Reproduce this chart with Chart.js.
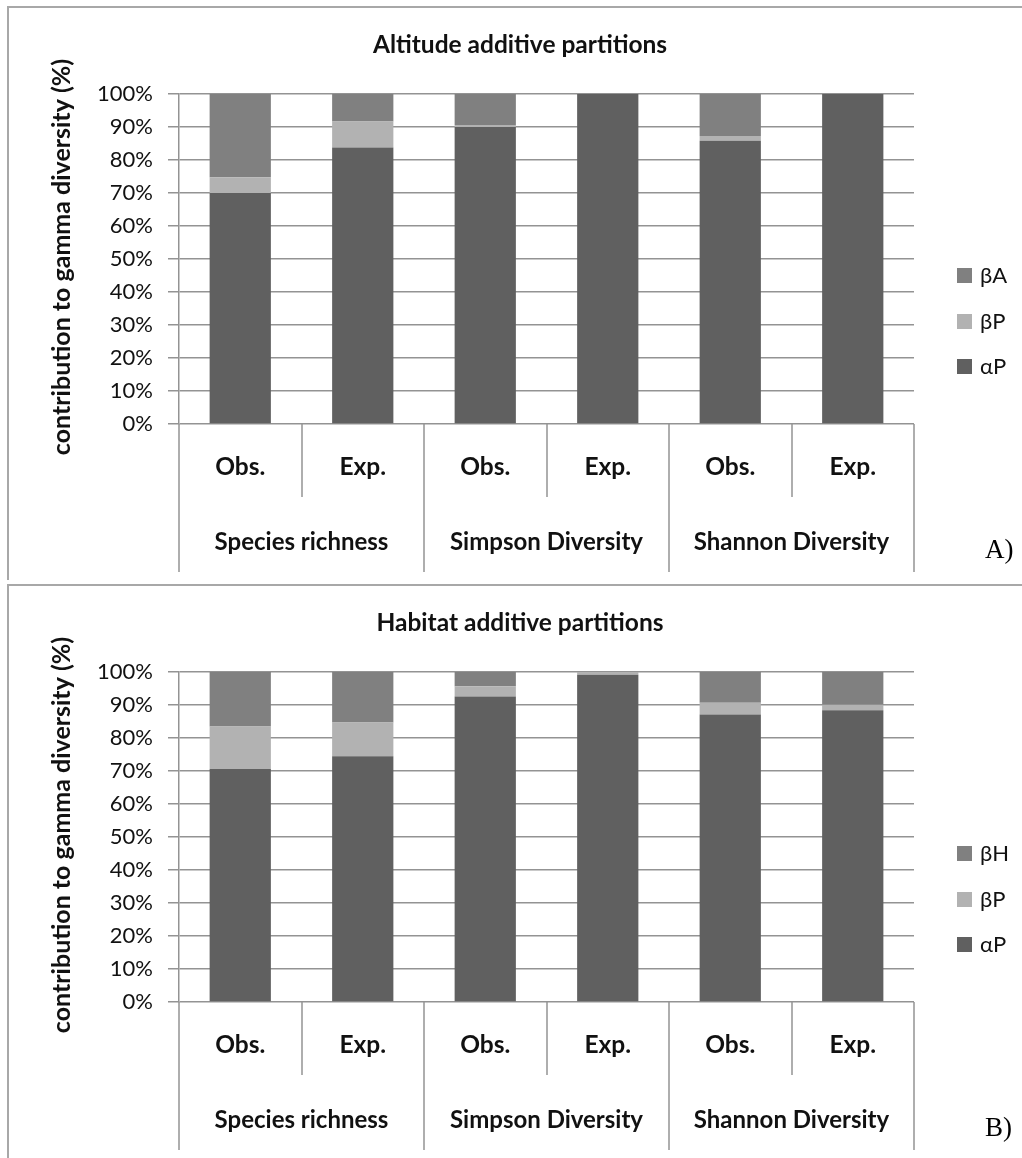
<!DOCTYPE html>
<html><head><meta charset="utf-8">
<script src="https://cdn.jsdelivr.net/npm/chart.js@4.4.1/dist/chart.umd.min.js"></script>
<style>
html,body{margin:0;padding:0;background:#fff;}
body{width:1022px;height:1158px;position:relative;overflow:hidden;}
.panel{position:absolute;left:0;width:1022px;height:580px;}
#pa{top:0;}
#pb{top:578px;}
</style></head><body>
<div class="panel" id="pa"><canvas id="ca" width="1022" height="580"></canvas></div>
<div class="panel" id="pb"><canvas id="cb" width="1022" height="580"></canvas></div>
<script>
// ---- data ----
const subLabels = ['Obs.', 'Exp.', 'Obs.', 'Exp.', 'Obs.', 'Exp.'];
const groupLabels = ['Species richness', 'Simpson Diversity', 'Shannon Diversity'];
const yTickValues = [0, 10, 20, 30, 40, 50, 60, 70, 80, 90, 100];

const altTitle = 'Altitude additive partitions';
const altAlphaP = [70.0, 83.8, 90.0, 100, 85.8, 100];
const altBetaP  = [4.8, 7.9, 0.6, 0, 1.5, 0];
const altBetaA  = [25.2, 8.3, 9.4, 0, 12.7, 0];

const habTitle = 'Habitat additive partitions';
const habAlphaP = [70.6, 74.5, 92.6, 99.2, 87.1, 88.4];
const habBetaP  = [12.9, 10.2, 3.1, 0.8, 3.6, 1.7];
const habBetaH  = [16.5, 15.3, 4.3, 0, 9.3, 9.9];

const yTitle = 'contribution to gamma diversity (%)';

// ---- style ----
const FONT = 'Lato, "Open Sans", sans-serif';
const C_DARK = '#606060', C_LIGHT = '#b2b2b2', C_MID = '#808080';
const GRID = '#939393';
const TXT = '#111111';
const L = 179, R = 914, T = 94, B = 424, SEP_S = 497, SEP_L = 572, H = 580;

function decorPlugin(title, tag) {
  return {
    id: 'decor',
    afterDraw(chart) {
      const ctx = chart.ctx;
      const xs = chart.scales.x;
      const area = chart.chartArea;
      ctx.save();
      // panel border
      ctx.strokeStyle = '#a8a8a8';
      ctx.lineWidth = 2;
      ctx.beginPath();
      ctx.moveTo(8, H); ctx.lineTo(8, 7); ctx.lineTo(1022, 7);
      ctx.stroke();
      // category separators
      const n = subLabels.length;
      const bounds = [];
      for (let i = 0; i <= n; i++) {
        if (i === 0) bounds.push(area.left);
        else if (i === n) bounds.push(area.right);
        else bounds.push((xs.getPixelForValue(i - 1) + xs.getPixelForValue(i)) / 2);
      }
      ctx.strokeStyle = GRID;
      ctx.lineWidth = 1.5;
      bounds.forEach((bx, i) => {
        const x = Math.round(bx);
        ctx.beginPath();
        ctx.moveTo(x, area.bottom);
        ctx.lineTo(x, i % 2 === 1 ? SEP_S : SEP_L);
        ctx.stroke();
      });
      // group labels
      ctx.fillStyle = TXT;
      ctx.font = 'bold 24px ' + FONT;
      ctx.textAlign = 'center';
      ctx.textBaseline = 'middle';
      groupLabels.forEach((g, k) => {
        const cx = (bounds[2 * k] + bounds[2 * k + 2]) / 2;
        ctx.fillText(g, cx, 542);
      });
      // title
      ctx.font = 'bold 24.5px ' + FONT;
      ctx.fillText(title, 520, 45);
      // y title
      ctx.save();
      ctx.translate(62, 257);
      ctx.rotate(-Math.PI / 2);
      ctx.font = 'bold 25px ' + FONT;
      ctx.fillText(yTitle, 0, 0);
      ctx.restore();
      // legend (reversed order)
      const ds = chart.data.datasets.slice().reverse();
      const ly = [276, 322, 367];
      ctx.textAlign = 'left';
      ctx.font = '22px ' + FONT;
      ds.forEach((d, i) => {
        ctx.fillStyle = d.backgroundColor;
        ctx.fillRect(957, ly[i] - 8, 15, 15);
        ctx.fillStyle = TXT;
        ctx.fillText(d.label, 980, ly[i]);
      });
      // panel tag
      ctx.font = '27px "Liberation Serif", serif';
      ctx.fillStyle = '#000';
      ctx.fillText(tag, 985, 551);
      ctx.restore();
    }
  };
}

function makeChart(id, title, tag, series) {
  return new Chart(document.getElementById(id), {
    type: 'bar',
    data: {
      labels: subLabels,
      datasets: series.map(s => ({
        label: s.label, data: s.data, backgroundColor: s.color,
        borderWidth: 0, barPercentage: 0.5, categoryPercentage: 1.0
      }))
    },
    options: {
      responsive: false,
      animation: false,
      layout: { padding: { left: 0, right: 1022 - R, top: T, bottom: H - SEP_L } },
      plugins: { legend: { display: false }, tooltip: { enabled: false }, title: { display: false } },
      scales: {
        x: {
          stacked: true,
          grid: { display: false },
          border: { display: false },
          ticks: { font: { family: FONT, size: 24.5, weight: 'bold' }, color: TXT, padding: 20, maxRotation: 0 },
          afterFit: s => { s.height = SEP_L - B; }
        },
        y: {
          stacked: true, min: 0, max: 100,
          afterBuildTicks: s => { s.ticks = yTickValues.map(v => ({ value: v })); },
          ticks: { callback: v => v + '%', font: { family: FONT, size: 22 }, color: TXT, padding: 15 },
          grid: { color: GRID, lineWidth: 1.5, tickLength: 11, drawTicks: true },
          border: { display: true, color: GRID, width: 1.5 },
          afterFit: s => { s.width = L; }
        }
      }
    },
    plugins: [decorPlugin(title, tag)]
  });
}

makeChart('ca', altTitle, 'A)', [
  { label: 'αP', data: altAlphaP, color: C_DARK },
  { label: 'βP', data: altBetaP, color: C_LIGHT },
  { label: 'βA', data: altBetaA, color: C_MID }
]);
makeChart('cb', habTitle, 'B)', [
  { label: 'αP', data: habAlphaP, color: C_DARK },
  { label: 'βP', data: habBetaP, color: C_LIGHT },
  { label: 'βH', data: habBetaH, color: C_MID }
]);
</script>
</body></html>
